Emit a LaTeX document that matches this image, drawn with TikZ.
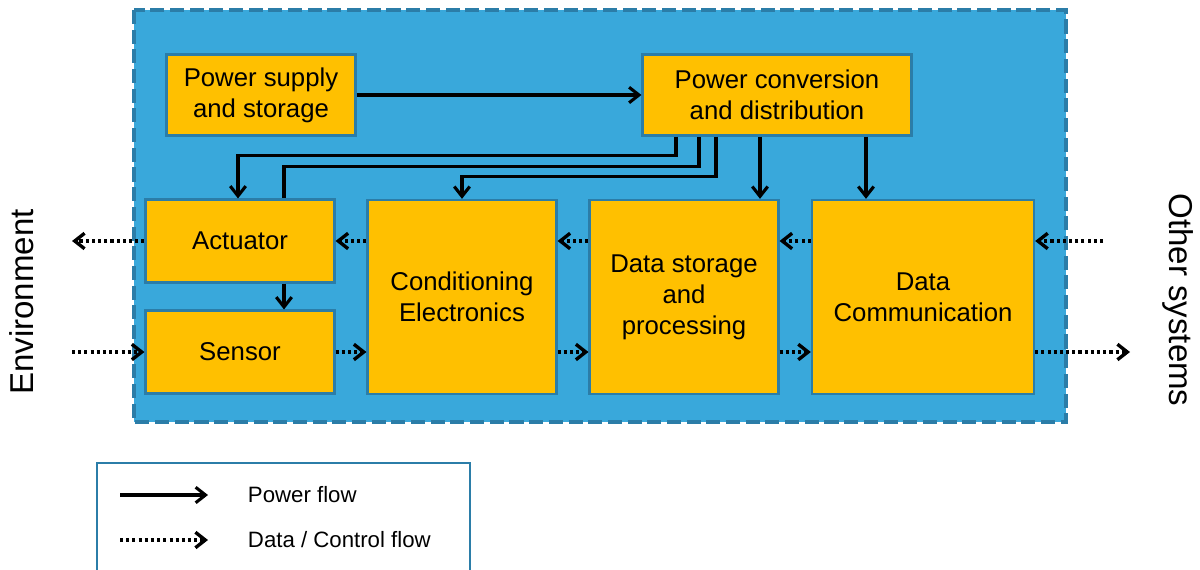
\documentclass[tikz,border=0pt]{standalone}
\usepackage{fontspec}
\setmainfont{Liberation Sans}
\usetikzlibrary{arrows.meta,positioning,calc}
\definecolor{skyblue}{HTML}{39A8DB}
\definecolor{frameblue}{HTML}{2B7DA8}
\definecolor{boxgold}{HTML}{FFC000}

\begin{document}
\begin{tikzpicture}[x=0.025cm, y=-0.025cm,
        block/.style = {draw=frameblue, fill=boxgold, line width=1.6pt, align=center, inner sep=0pt, minimum width=4.72cm, font=\fontsize{18.3}{22}\selectfont},
        power/.style = {line width=2.2pt, -{Straight Barb[length=7pt, width=11pt, line width=2.2pt]}},
        data/.style = {line width=2.4pt, dash pattern=on 2.2pt off 2.2pt, -{Straight Barb[length=7pt, width=11pt, line width=2.4pt]}}]
                \useasboundingbox (0,0) rectangle (1200,570);
                \draw[frameblue, fill=skyblue, line width=2.2pt, dash pattern=on 10pt off 4pt] (134,10) rectangle (1066,422);

                \node[block, minimum height=2.02cm] (supply) at (261,95) {Power supply\\and storage};
                \node[block, minimum height=2.02cm, minimum width=6.72cm] (conv) at (777,95) {Power conversion\\and distribution};
                \node[block, minimum height=2.07cm] (act) at (240,241) {Actuator};
                \node[block, minimum height=2.07cm] (sens) at (240,352) {Sensor};
                \node[block, minimum height=4.85cm] (cond) at (462,297) {Conditioning\\Electronics};
                \node[block, minimum height=4.85cm] (store) at (684,297) {Data storage\\and\\processing};
                \node[block, minimum height=4.85cm, minimum width=5.55cm] (comm) at (923,297) {Data\\Communication};

                \node[rotate=90, font=\fontsize{23.5}{26}\selectfont] (env) at (22,302) {Environment};
                \node[rotate=-90, font=\fontsize{23.5}{26}\selectfont] (other) at (1178,300) {Other systems};
                \coordinate (envout) at (72,241);
                \coordinate (envin) at (72,352);
                \coordinate (othin) at (1103,241);
                \coordinate (othout) at (1130,352);

                \draw[power] (supply) -- (conv);
                \draw[power] ($(conv.south)+(-101,0)$) |- ($(act.north)+(-2,-43)$) -- ($(act.north)+(-2,0)$);
                \draw[line width=2.2pt] ($(conv.south)+(-78,0)$) |- ($(act.north)+(44,-32)$) -- ($(act.north)+(44,0)$);
                \draw[power] ($(conv.south)+(-61,0)$) |- ($(cond.north)+(0,-22)$) -- (cond.north);
                \draw[power] ($(conv.south)+(-17,0)$) -- ($(store.north)+(76,0)$);
                \draw[power] ($(conv.south)+(89,0)$) -- ($(comm.north)+(-57,0)$);
                \draw[power] ($(act.south)+(44,0)$) -- ($(sens.north)+(44,0)$);

                \draw[data] (othin) -- (comm.east |- othin);
                \draw[data] (comm.west |- act) -- (store.east |- act);
                \draw[data] (store.west |- act) -- (cond.east |- act);
                \draw[data] (cond.west |- act) -- (act.east);
                \draw[data] (act.west) -- (envout);
                \draw[data] (envin) -- (sens.west);
                \draw[data] (sens.east) -- (cond.west |- sens);
                \draw[data] (cond.east |- sens) -- (store.west |- sens);
                \draw[data] (store.east |- sens) -- (comm.west |- sens);
                \draw[data] (comm.east |- sens) -- (othout);

                \draw[frameblue, fill=white, line width=1.8pt] (97,463) rectangle (470,575);
                \coordinate (pwa) at (120,495);
                \coordinate (pwb) at (208,495);
                \coordinate (dta) at (120,540);
                \coordinate (dtb) at (208,540);
                \draw[power] (pwa) -- (pwb);
                \draw[data] (dta) -- (dtb);
                \node[anchor=west, font=\fontsize{15.8}{18}\selectfont] (pwlabel) at (243,495) {Power flow};
                \node[anchor=west, font=\fontsize{15.8}{18}\selectfont] (dtlabel) at (243,540) {Data / Control flow};

            \end{tikzpicture}
\end{document}
